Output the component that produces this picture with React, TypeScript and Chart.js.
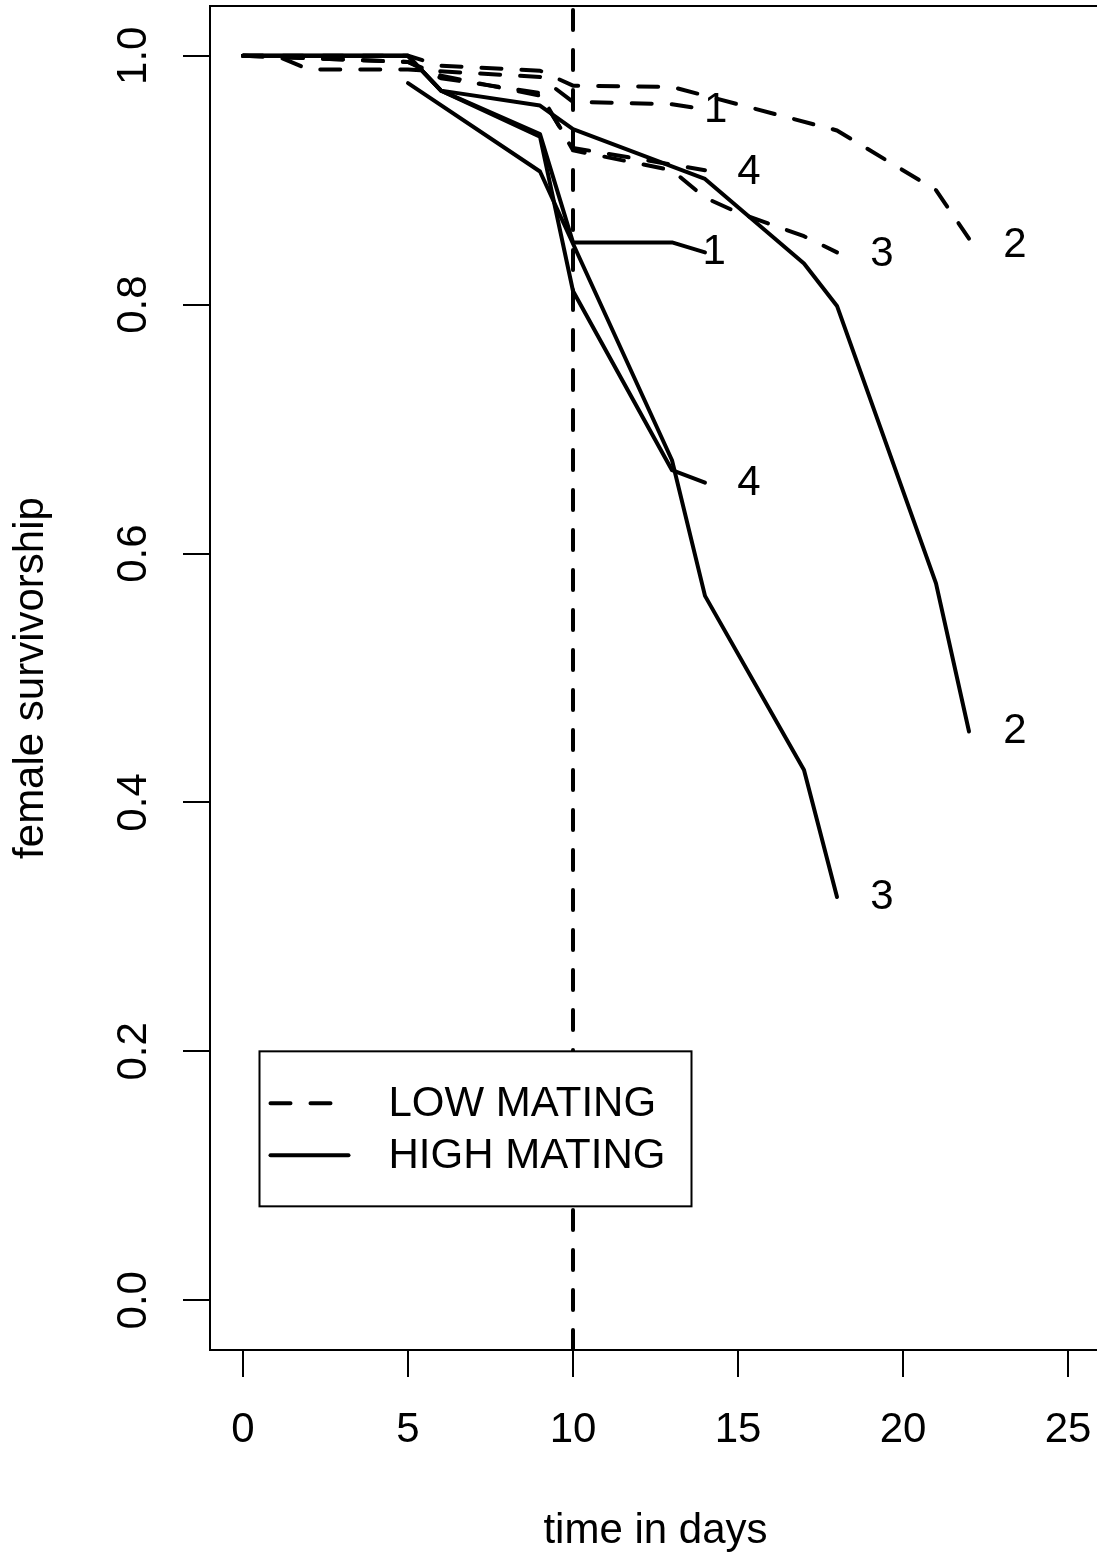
import React, { useEffect, useRef } from 'react';
import { Chart, registerables } from 'chart.js';

Chart.register(...registerables);

const FONT = '"Liberation Sans", Arial, Helvetica, sans-serif';

// axis
const xMin = -1;
const xMax = 26;
const yMin = -0.04;
const yMax = 1.04;
const xTicks = [0, 5, 10, 15, 20, 25];
const yTicks = [0, 0.2, 0.4, 0.6, 0.8, 1.0];
const yTickLabels = ['0.0', '0.2', '0.4', '0.6', '0.8', '1.0'];

// LOW MATING (dashed)
const low1Days = [0, 1, 2, 5, 9, 10, 13, 14];
const low1Vals = [1, 1, 0.989, 0.989, 0.983, 0.963, 0.961, 0.957];
const low2Days = [0, 5, 6, 9, 10, 13, 14, 18, 21, 22];
const low2Vals = [1, 1, 0.992, 0.988, 0.976, 0.975, 0.968, 0.94, 0.892, 0.853];
const low3Days = [0, 5, 6, 9, 10, 13, 14, 15, 17, 18];
const low3Vals = [1, 0.995, 0.982, 0.97, 0.924, 0.908, 0.886, 0.874, 0.855, 0.842];
const low4Days = [0, 5, 6, 9, 10, 14];
const low4Vals = [1, 0.995, 0.984, 0.968, 0.926, 0.908];

// HIGH MATING (solid)
const high1Days = [0, 5, 6, 9, 10, 13, 14];
const high1Vals = [1, 1, 0.972, 0.937, 0.85, 0.85, 0.842];
const high2Days = [0, 5, 6, 9, 10, 14, 17, 18, 21, 22];
const high2Vals = [1, 1, 0.972, 0.96, 0.941, 0.901, 0.833, 0.799, 0.576, 0.457];
const high3Days = [5, 9, 13, 14, 17, 18];
const high3Vals = [0.978, 0.907, 0.675, 0.566, 0.426, 0.324];
const high4Days = [0, 5, 6, 9, 10, 13, 14];
const high4Vals = [1, 1, 0.972, 0.935, 0.811, 0.667, 0.657];

// mating-change day
const cutoffDay = 10;

// replicate labels at the end of each curve
const endLabelText = ['1', '2', '3', '4', '1', '2', '3', '4'];
const endLabelX = [14.32, 23.39, 19.36, 15.33, 14.28, 23.39, 19.36, 15.33];
const endLabelY = [0.956, 0.848, 0.84, 0.906, 0.842, 0.457, 0.324, 0.656];

const legendLabels = ['LOW MATING', 'HIGH MATING'];
const legendAnchorX = 0.5;
const legendAnchorY = 0.2;

const DASH = [20, 20];

function pts(days: number[], vals: number[]) {
  return days.map((d, i) => ({ x: d, y: vals[i] }));
}

const rPlot = {
  id: 'rPlot',
  afterDraw(chart: any) {
    const { ctx, chartArea } = chart;
    const xs = chart.scales.x;
    const ys = chart.scales.y;
    ctx.save();
    // frame
    ctx.strokeStyle = '#000';
    ctx.lineWidth = 2;
    ctx.setLineDash([]);
    ctx.strokeRect(chartArea.left, chartArea.top, chartArea.right - chartArea.left, chartArea.bottom - chartArea.top);

    ctx.fillStyle = '#000';
    ctx.font = `42px ${FONT}`;
    // rotated y tick labels
    yTicks.forEach((v, i) => {
      const py = ys.getPixelForValue(v);
      ctx.save();
      ctx.translate(chartArea.left - 76, py);
      ctx.rotate(-Math.PI / 2);
      ctx.textAlign = 'center';
      ctx.textBaseline = 'middle';
      ctx.fillText(yTickLabels[i], 0, 0);
      ctx.restore();
    });

    // end labels
    ctx.textAlign = 'center';
    ctx.textBaseline = 'middle';
    endLabelText.forEach((t, i) => {
      ctx.fillText(t, xs.getPixelForValue(endLabelX[i]), ys.getPixelForValue(endLabelY[i]));
    });

    // legend
    const lx = xs.getPixelForValue(legendAnchorX);
    const ly = ys.getPixelForValue(legendAnchorY);
    const lw = 432;
    const lh = 155;
    ctx.fillStyle = '#fff';
    ctx.fillRect(lx, ly, lw, lh);
    ctx.strokeStyle = '#000';
    ctx.lineWidth = 2;
    ctx.strokeRect(lx, ly, lw, lh);
    ctx.lineWidth = 4;
    ctx.lineCap = 'round';
    const rows = [ly + 52, ly + 104];
    ctx.setLineDash(DASH);
    ctx.beginPath();
    ctx.moveTo(lx + 11, rows[0]);
    ctx.lineTo(lx + 89, rows[0]);
    ctx.stroke();
    ctx.setLineDash([]);
    ctx.beginPath();
    ctx.moveTo(lx + 11, rows[1]);
    ctx.lineTo(lx + 89, rows[1]);
    ctx.stroke();
    ctx.fillStyle = '#000';
    ctx.textAlign = 'left';
    ctx.textBaseline = 'middle';
    legendLabels.forEach((t, i) => ctx.fillText(t, lx + 129, rows[i] + 1));
    ctx.restore();
  },
};

export default function App() {
  const ref = useRef<HTMLCanvasElement | null>(null);

  useEffect(() => {
    if (!ref.current) return;
    const dashed = { borderDash: DASH };
    const mk = (label: string, days: number[], vals: number[], dash: boolean) => ({
      label,
      data: pts(days, vals),
      borderColor: '#000',
      borderWidth: 4,
      borderCapStyle: 'round',
      borderJoinStyle: 'round',
      pointRadius: 0,
      fill: false,
      tension: 0,
      ...(dash ? dashed : {}),
    });
    const datasets: any[] = [
      mk('low 1', low1Days, low1Vals, true),
      mk('low 2', low2Days, low2Vals, true),
      mk('low 3', low3Days, low3Vals, true),
      mk('low 4', low4Days, low4Vals, true),
      mk('high 1', high1Days, high1Vals, false),
      mk('high 2', high2Days, high2Vals, false),
      mk('high 3', high3Days, high3Vals, false),
      mk('high 4', high4Days, high4Vals, false),
      mk('day 10', [cutoffDay, cutoffDay], [yMin, yMax], true),
    ];
    const chart = new Chart(ref.current, {
      type: 'line',
      data: { datasets },
      plugins: [rPlot],
      options: {
        animation: false,
        responsive: false,
        devicePixelRatio: 1,
        layout: { padding: { top: 6, right: 9, left: 0, bottom: 0 } },
        plugins: { legend: { display: false }, tooltip: { enabled: false } },
        scales: {
          x: {
            type: 'linear',
            min: xMin,
            max: xMax,
            afterBuildTicks: (s: any) => {
              s.ticks = xTicks.map((v) => ({ value: v }));
            },
            afterFit: (s: any) => {
              s.height = 205;
              s.paddingLeft = 0;
              s.paddingRight = 0;
            },
            grid: { display: true, drawOnChartArea: false, drawTicks: true, tickLength: 27, color: '#000', lineWidth: 2 },
            border: { display: false },
            ticks: {
              color: '#000',
              font: { family: FONT, size: 42 },
              padding: 28,
              maxRotation: 0,
              minRotation: 0,
              autoSkip: false,
              callback: (v: any) => String(v),
            },
            title: {
              display: true,
              text: 'time in days',
              color: '#000',
              font: { family: FONT, size: 42, lineHeight: 1.1 },
              padding: { top: 0, bottom: 0 },
            },
          },
          y: {
            type: 'linear',
            min: yMin,
            max: yMax,
            afterBuildTicks: (s: any) => {
              s.ticks = yTicks.map((v) => ({ value: v }));
            },
            afterFit: (s: any) => {
              s.width = 210;
              s.paddingTop = 0;
              s.paddingBottom = 0;
            },
            grid: { display: true, drawOnChartArea: false, drawTicks: true, tickLength: 27, color: '#000', lineWidth: 2 },
            border: { display: false },
            ticks: { display: false },
            title: {
              display: true,
              text: 'female survivorship',
              color: '#000',
              font: { family: FONT, size: 42, lineHeight: 1.2 },
              padding: { top: 6, bottom: 0 },
            },
          },
        },
      } as any,
    });
    return () => chart.destroy();
  }, []);

  return (
    <div style={{ position: 'absolute', left: 0, top: 0, width: 1097, height: 1555, overflow: 'hidden', background: '#fff' }}>
      <canvas ref={ref} width={1110} height={1555} style={{ display: 'block', width: 1110, height: 1555 }} />
    </div>
  );
}
